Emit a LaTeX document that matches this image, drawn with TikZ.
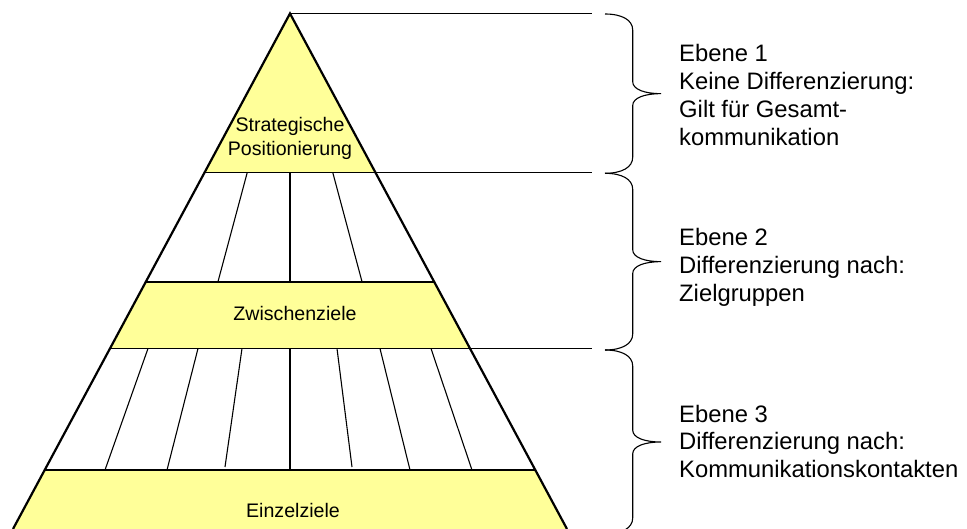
\documentclass[tikz,border=0pt]{standalone}
\usepackage{fontspec}
\setmainfont{Liberation Sans}
\definecolor{gelb}{HTML}{FFFF99}
% geschweifte Klammer von #1 (oben) bis #2 (unten)
\newcommand{\klammer}[2]{%
  \draw[linie] (605,#1) .. controls (622,#1) and (632.7,#1+6) .. (632.7,#1+16)
    -- (632.7,{(#1+#2)/2-12}) .. controls (632.7,{(#1+#2)/2-4}) and (645,{(#1+#2)/2}) .. (661,{(#1+#2)/2})
    .. controls (645,{(#1+#2)/2}) and (632.7,{(#1+#2)/2+4}) .. (632.7,{(#1+#2)/2+12})
    -- (632.7,#2-16) .. controls (632.7,#2-6) and (622,#2) .. (605,#2);}
\begin{document}
\begin{tikzpicture}[x=1pt,y=-1pt]
	\tikzstyle{kante}=[line width=2.2pt]
	\tikzstyle{linie}=[line width=1.1pt]
	\tikzstyle{feld}=[fill=gelb]
	\tikzstyle{stufe}=[font=\fontsize{19.6}{23.3}\selectfont,align=center,inner sep=0pt]
	\tikzstyle{ebene}=[font=\fontsize{23.8}{27.8}\selectfont,align=left,anchor=north west,inner sep=0pt]
	\useasboundingbox (0,0) rectangle (967,529);
	\coordinate (spitze) at (290,13.5);
	\coordinate (b_l) at (13,529);
	\coordinate (b_r) at (567,529);
	% gelbe Felder
	\fill[feld] (spitze) -- (375.5,172.7) -- (204.5,172.7) -- cycle;
	\fill[feld] (145.7,282) -- (434.3,282) -- (470,348.5) -- (110,348.5) -- cycle;
	\fill[feld] (44.7,470) -- (535.3,470) -- (b_r) -- (b_l) -- cycle;
	% Querlinien
	\coordinate (r_1) at (592,13.5);
	\coordinate (r_2) at (592,172.7);
	\coordinate (r_3) at (592,348.5);
	\draw[linie] (spitze) -- (r_1) (204.5,172.7) -- (r_2) (110,348.5) -- (r_3);
	\draw[linie] (145.7,282) -- (434.3,282) (44.7,470) -- (535.3,470);
	% Unterteilungen
	\foreach \o/\u in {247.2/217.9, 290/290, 332.8/362.1}
		\draw[linie] (\o,172.7) -- (\u,282);
	\foreach \o/\u/\e in {148/105/470, 198/167/470, 242/225/467, 290/290/470, 337/352/467, 380/410/470, 431/472/470}
		\draw[linie] (\o,348.5) -- (\u,\e);
	% Pyramide
	\draw[kante] (b_l) -- (spitze) -- (b_r);
	\node[stufe,anchor=north] (strat) at (290,117.4) {Strategische\\Positionierung};
	\node[stufe,anchor=base] (zwischen) at (295,320.7) {Zwischenziele};
	\node[stufe,anchor=base] (einzel) at (293,517) {Einzelziele};
	% Klammern und Ebenen
	\klammer{14}{173.3}
	\klammer{173.3}{350}
	\klammer{350}{534}
	\node[ebene] (ebene_1) at (679,44.4) {Ebene 1\\Keine Differenzierung:\\Gilt für Gesamt-\\kommunikation};
	\node[ebene] (ebene_2) at (679,228) {Ebene 2\\Differenzierung nach:\\Zielgruppen};
	\node[ebene] (ebene_3) at (679,404.7) {Ebene 3\\Differenzierung nach:\\Kommunikationskontakten};
\end{tikzpicture}
\end{document}
